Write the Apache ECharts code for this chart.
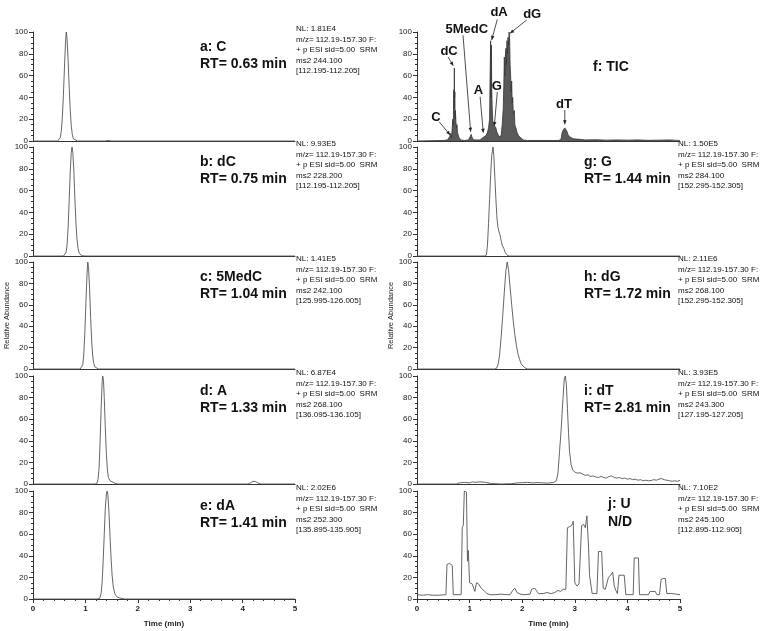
<!DOCTYPE html>
<html><head><meta charset="utf-8">
<script src="https://cdn.jsdelivr.net/npm/echarts@6/dist/echarts.min.js"></script>
<style>html,body{margin:0;padding:0;background:#fff}#c{width:764px;height:631px}</style>
</head><body><div id="c"></div>
<script>
// ---------- DATA (time in min, relative abundance %) ----------
const xTicks = [0, 1, 2, 3, 4, 5];
const yTicks = [0, 20, 40, 60, 80, 100];

const traceC = [[0,0],[0.47,0],[0.50,0.5],[0.52,3],[0.54,9],[0.56,22],[0.58,42],[0.60,67],[0.62,90],[0.635,100],[0.65,94],[0.67,74],[0.69,50],[0.71,29],[0.73,14],[0.75,6],[0.77,2],[0.80,0.5],[0.85,0],[1.38,0],[1.43,0.6],[1.50,0],[5,0]];
const traceDC = [[0,0],[0.58,0],[0.61,0.5],[0.63,3],[0.65,10],[0.67,26],[0.69,50],[0.71,77],[0.73,95],[0.745,100],[0.76,95],[0.78,78],[0.80,52],[0.82,30],[0.84,15],[0.86,7],[0.88,3],[0.91,1],[0.95,0.3],[1.0,0],[5,0]];
const trace5MedC = [[0,0],[0.90,0],[0.93,0.5],[0.95,4],[0.97,14],[0.99,35],[1.01,62],[1.03,88],[1.045,100],[1.06,95],[1.08,75],[1.10,48],[1.12,26],[1.14,12],[1.16,5],[1.18,2],[1.21,0.5],[1.25,0],[5,0]];
const traceA = [[0,0],[1.18,0],[1.22,0.5],[1.24,4],[1.26,14],[1.28,38],[1.30,70],[1.32,95],[1.33,100],[1.345,96],[1.36,80],[1.38,52],[1.40,28],[1.42,13],[1.44,6],[1.47,3],[1.50,2.5],[1.53,1.5],[1.57,0.5],[1.62,0],[4.10,0],[4.15,1],[4.20,2.5],[4.25,2.2],[4.30,0.8],[4.35,0],[5,0]];
const traceDA = [[0,0],[1.22,0],[1.27,0.5],[1.30,5],[1.32,16],[1.34,36],[1.36,60],[1.38,84],[1.40,97],[1.415,100],[1.43,96],[1.45,80],[1.47,58],[1.49,38],[1.51,22],[1.53,12],[1.56,5],[1.60,2],[1.65,1],[1.70,0.5],[1.75,0],[5,0]];
const traceTIC = [[0,0],[0.50,0.5],[0.58,1],[0.62,4],[0.64,7],[0.655,3],[0.67,12],[0.68,20],[0.69,14],[0.70,47],[0.705,30],[0.71,67],[0.715,40],[0.72,45],[0.725,20],[0.73,28],[0.74,18],[0.75,12],[0.76,15],[0.77,8],[0.78,6],[0.80,3],[0.83,1],[0.90,0.5],[0.98,1],[1.01,4],[1.03,6],[1.05,3],[1.08,1],[1.20,1],[1.25,3],[1.28,4],[1.31,5],[1.34,8],[1.36,12],[1.38,20],[1.39,60],[1.40,92],[1.405,40],[1.41,70],[1.415,88],[1.42,50],[1.43,30],[1.44,18],[1.46,15],[1.48,16],[1.50,12],[1.52,8],[1.54,6],[1.56,4],[1.58,3],[1.60,5],[1.62,15],[1.64,30],[1.65,50],[1.66,77],[1.67,60],[1.68,78],[1.69,85],[1.70,70],[1.71,92],[1.72,80],[1.73,95],[1.74,88],[1.75,100],[1.76,97],[1.77,70],[1.78,60],[1.79,45],[1.80,55],[1.81,35],[1.82,40],[1.83,25],[1.85,28],[1.86,15],[1.88,12],[1.90,8],[1.93,5],[1.97,3],[2.02,1],[2.10,0.5],[2.70,0.5],[2.74,2],[2.76,8],[2.78,10],[2.80,9],[2.81,12],[2.83,11],[2.85,9],[2.87,6],[2.90,4],[2.93,3],[2.97,2],[3.00,1],[3.10,1.5],[3.20,1],[3.40,1.2],[3.60,0.8],[3.80,1],[4.00,0.8],[4.20,1],[4.40,0.6],[4.60,0.8],[4.80,1],[5.00,0.5]];
const traceG = [[0,0],[1.28,0],[1.32,1],[1.34,10],[1.36,30],[1.38,52],[1.40,74],[1.42,92],[1.445,100],[1.46,92],[1.48,72],[1.50,52],[1.52,35],[1.54,26],[1.56,22],[1.58,19],[1.60,14],[1.62,10],[1.65,7],[1.68,3],[1.72,0.5],[1.76,0],[5,0]];
const traceDG = [[0,0],[1.47,0],[1.51,0.5],[1.54,4],[1.57,13],[1.60,30],[1.63,50],[1.66,72],[1.69,92],[1.715,100],[1.74,93],[1.77,76],[1.80,60],[1.83,45],[1.86,32],[1.89,22],[1.92,14],[1.95,9],[1.98,5],[2.02,2.5],[2.06,1],[2.10,0],[5,0]];
const traceDT = [[0,0],[0.75,0],[0.80,1],[0.90,1.5],[1.00,1],[1.05,2],[1.10,1.5],[1.20,2],[1.30,1.5],[1.40,0.5],[1.60,0],[1.80,0.3],[1.90,1],[2.00,1.2],[2.10,1.5],[2.20,1],[2.30,1.3],[2.40,1],[2.50,0.8],[2.60,1.5],[2.65,3],[2.68,10],[2.71,30],[2.74,50],[2.77,75],[2.80,97],[2.82,100],[2.84,92],[2.86,70],[2.88,48],[2.90,30],[2.93,18],[2.96,13],[3.00,11],[3.05,10],[3.10,10.5],[3.15,9],[3.20,8],[3.25,8.5],[3.30,7],[3.35,7.5],[3.40,6.5],[3.45,6],[3.50,7],[3.55,6],[3.60,5.5],[3.65,7],[3.70,7.5],[3.75,6],[3.80,5.5],[3.85,6],[3.90,5],[3.95,5.5],[4.00,4.5],[4.05,5],[4.10,4],[4.15,4.5],[4.20,3.5],[4.25,4],[4.30,3],[4.35,3.5],[4.40,3],[4.45,3.2],[4.50,4],[4.55,3.5],[4.60,4.5],[4.65,5],[4.70,4],[4.75,3.5],[4.80,3],[4.85,2.5],[4.90,3],[4.95,2.5],[5.00,3.5]];
const traceU = [[0,4],[0.1,3.5],[0.2,4],[0.3,3.5],[0.4,3.5],[0.55,4],[0.57,32],[0.62,33],[0.67,31],[0.69,4],[0.84,4],[0.86,66],[0.88,68],[0.90,100],[0.94,99],[0.96,35],[0.975,45],[1.0,15],[1.05,14],[1.10,7],[1.13,15],[1.17,14],[1.22,10],[1.27,8],[1.33,5],[1.39,4],[1.5,4],[1.6,4.5],[1.7,4],[1.77,4],[1.82,8],[1.86,10],[1.90,6],[1.96,4.5],[2.05,4],[2.15,4.5],[2.18,9],[2.24,10],[2.28,7],[2.31,5],[2.40,5],[2.47,6],[2.55,5],[2.62,6],[2.68,8],[2.73,7],[2.78,9],[2.83,9],[2.86,66],[2.90,67],[2.94,68],[2.97,72],[3.00,15],[3.04,12],[3.08,14],[3.11,14],[3.13,68],[3.17,69],[3.20,66],[3.23,77],[3.26,50],[3.28,22],[3.31,22],[3.33,5],[3.42,5],[3.45,44],[3.51,44],[3.54,10],[3.58,9],[3.61,8],[3.64,20],[3.68,22],[3.72,25],[3.75,12],[3.78,8],[3.81,5],[3.84,22],[3.94,22],[3.97,4],[4.11,4],[4.13,38],[4.21,38],[4.23,4],[4.40,4],[4.43,7],[4.53,7],[4.56,4],[4.61,4],[4.64,18],[4.68,19],[4.72,19],[4.75,5],[4.85,5],[5.0,4]];

const panelTraces = [traceC, traceDC, trace5MedC, traceA, traceDA, traceTIC, traceG, traceDG, traceDT, traceU];
const panelNames = ['a: C','b: dC','c: 5MedC','d: A','e: dA','f: TIC','g: G','h: dG','i: dT','j: U'];
const panelSubs = ['RT= 0.63 min','RT= 0.75 min','RT= 1.04 min','RT= 1.33 min','RT= 1.41 min','','RT= 1.44 min','RT= 1.72 min','RT= 2.81 min','N/D'];
const nlValues = ['NL: 1.81E4','NL: 9.93E5','NL: 1.41E5','NL: 6.87E4','NL: 2.02E6','','NL: 1.50E5','NL: 2.11E6','NL: 3.93E5','NL: 7.10E2'];
const filterLine = 'm/z= 112.19-157.30 F:';
const scanLine = '+ p ESI sid=5.00  SRM';
const ms2Values = ['ms2 244.100','ms2 228.200','ms2 242.100','ms2 268.100','ms2 252.300','','ms2 284.100','ms2 268.100','ms2 243.300','ms2 245.100'];
const massRanges = ['[112.195-112.205]','[112.195-112.205]','[125.995-126.005]','[136.095-136.105]','[135.895-135.905]','','[152.295-152.305]','[152.295-152.305]','[127.195-127.205]','[112.895-112.905]'];

// TIC peak annotations (data units of panel f)
const ticLabels = ['C','dC','5MedC','A','G','dA','dG','dT'];
const ticLabelAt = [[0.36,22],[0.61,82],[0.945,102],[1.17,46],[1.515,50.5],[1.56,117.7],[2.19,116.5],[2.795,34]];
const ticArrowFrom = [[0.42,17.7],[0.59,77],[0.875,97],[1.20,40.6],[1.527,45],[1.527,111.6],[2.085,111],[2.81,28.4]];
const ticArrowTo = [[0.63,5.5],[0.69,69],[1.02,8.5],[1.26,7.6],[1.47,13.8],[1.42,92.7],[1.77,98.8],[2.81,15.3]];

// ---------- LAYOUT ----------
const rowTops = [32, 147, 262, 376, 491];
const rowHeights = [109, 109, 107, 108, 108];
const colLefts = [33, 417];
const colWidths = [262, 263];
const FONT = '"Liberation Sans", Arial, Helvetica, sans-serif';

const grids = [], xAxes = [], yAxes = [], series = [];
for (let i = 0; i < 10; i++) {
  const col = i < 5 ? 0 : 1, row = i % 5;
  const bottom = row === 4;
  grids.push({ left: colLefts[col], top: rowTops[row], width: colWidths[col], height: rowHeights[row], containLabel: false });
  xAxes.push({
    type: 'value', gridIndex: i, min: xTicks[0], max: xTicks[xTicks.length - 1], interval: 1,
    axisLine: { show: true, onZero: false, lineStyle: { color: '#333', width: 1 } },
    axisTick: { show: bottom, length: 4, lineStyle: { color: '#333' } },
    minorTick: { show: bottom, splitNumber: 5, length: 2, lineStyle: { color: '#333' } },
    axisLabel: { show: bottom, fontSize: 8, fontWeight: 'bold', color: '#222', fontFamily: FONT, margin: 6 },
    splitLine: { show: false },
    name: bottom ? 'Time (min)' : '', nameLocation: 'middle', nameGap: 21,
    nameTextStyle: { fontSize: 8, fontWeight: 'bold', color: '#222', fontFamily: FONT }
  });
  yAxes.push({
    type: 'value', gridIndex: i, min: yTicks[0], max: yTicks[yTicks.length - 1], interval: 20,
    axisLine: { show: true, lineStyle: { color: '#333', width: 1 } },
    axisTick: { show: true, length: 4, lineStyle: { color: '#333' } },
    minorTick: { show: true, splitNumber: 4, length: 2, lineStyle: { color: '#333' } },
    axisLabel: { show: true, fontSize: 8, color: '#222', fontFamily: FONT, margin: 5 },
    splitLine: { show: false },
    name: row === 2 ? 'Relative Abundance' : '', nameLocation: 'middle', nameGap: 22,
    nameTextStyle: { fontSize: 7.5, color: '#222', fontFamily: FONT }
  });
  const isTIC = i === 5;
  series.push({
    type: 'line', xAxisIndex: i, yAxisIndex: i, data: panelTraces[i],
    showSymbol: false, symbol: 'none', animation: false, clip: true,
    lineStyle: { color: isTIC ? '#333' : '#555', width: isTIC ? 0.8 : 0.9 },
    areaStyle: isTIC ? { color: '#5a5a5a', opacity: 1 } : undefined
  });
}

const chart = echarts.init(document.getElementById('c'), null, { renderer: 'canvas' });
chart.setOption({ animation: false, backgroundColor: '#fff', grid: grids, xAxis: xAxes, yAxis: yAxes, series: series });

// ---------- TEXT / ANNOTATIONS ----------
const g = [];
function txt(s, x, y, font, align) {
  g.push({ type: 'text', silent: true, style: { text: s, x: x, y: y, font: font, fill: '#111',
    textAlign: align || 'left', textVerticalAlign: 'middle', align: align || 'left', verticalAlign: 'middle' } });
}
const bigFont = 'bold 14px ' + FONT;
const smallFont = '8px ' + FONT;
for (let i = 0; i < 10; i++) {
  const col = i < 5 ? 0 : 1, row = i % 5;
  const top = rowTops[row];
  let lx = col === 0 ? 200 : 584;
  if (i === 5) { txt(panelNames[i], 593, top + 35, bigFont); }
  else if (i === 9) { txt(panelNames[i], 608, top + 13, bigFont); txt(panelSubs[i], 608, top + 31, bigFont); }
  else { txt(panelNames[i], lx, top + 15, bigFont); txt(panelSubs[i], lx, top + 32, bigFont); }
  if (nlValues[i]) {
    const nx = col === 0 ? colLefts[0] + colWidths[0] + 1 : colLefts[1] + colWidths[1] - 2;
    const lines = [nlValues[i], filterLine, scanLine, ms2Values[i], massRanges[i]];
    lines.forEach((s, k) => txt(s, nx, top - 3 + k * 10.5, smallFont));
  }
}
ticLabels.forEach((lab, k) => {
  const p = chart.convertToPixel({ gridIndex: 5 }, ticLabelAt[k]);
  txt(lab, p[0], p[1], 'bold 13px ' + FONT, 'center');
  const a = chart.convertToPixel({ gridIndex: 5 }, ticArrowFrom[k]);
  const b = chart.convertToPixel({ gridIndex: 5 }, ticArrowTo[k]);
  g.push({ type: 'line', silent: true, shape: { x1: a[0], y1: a[1], x2: b[0], y2: b[1] }, style: { stroke: '#222', lineWidth: 0.8 } });
  const ang = Math.atan2(b[1] - a[1], b[0] - a[0]);
  const L = 4, W = 1.8, c = Math.cos(ang), s = Math.sin(ang);
  g.push({ type: 'polygon', silent: true, shape: { points: [[b[0], b[1]], [b[0] - L * c + W * s, b[1] - L * s - W * c], [b[0] - L * c - W * s, b[1] - L * s + W * c]] }, style: { fill: '#222' } });
});
chart.setOption({ graphic: g });
</script>
</body></html>
